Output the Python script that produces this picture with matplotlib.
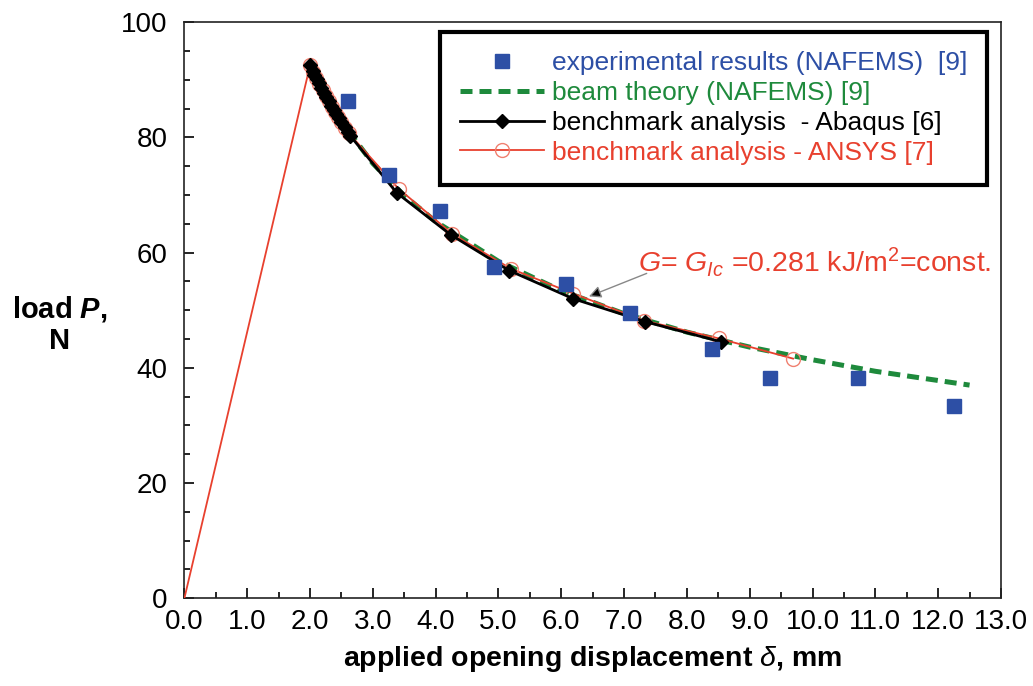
import numpy as np
import matplotlib
matplotlib.use('agg')
import matplotlib.pyplot as plt
from matplotlib.ticker import MultipleLocator, FormatStrFormatter

plt.rcParams['font.family'] = ['Liberation Sans', 'DejaVu Sans']
plt.rcParams['mathtext.fontset'] = 'custom'
plt.rcParams['mathtext.rm'] = 'Liberation Sans'
plt.rcParams['mathtext.it'] = 'Liberation Sans:italic'
plt.rcParams['mathtext.bf'] = 'Liberation Sans:bold'
plt.rcParams['mathtext.bfit'] = 'Liberation Sans:italic:bold'

# experimental results (NAFEMS) [9]
exp_x = [2.60, 3.25, 4.07, 4.93, 6.07, 7.10, 8.40, 9.32, 10.73, 12.26]
exp_y = [86.3, 73.4, 67.2, 57.5, 54.5, 49.5, 43.2, 38.2, 38.2, 33.4]

# beam theory (NAFEMS) [9]
beam_x = [2.0, 2.5, 3.0, 3.5, 4.0, 5.0, 6.0, 7.0, 8.0, 9.0, 10.0, 11.0, 12.0, 12.5]
beam_y = [92.5, 82.7, 75.5, 69.9, 65.4, 58.5, 53.4, 49.4, 46.2, 43.6, 41.4, 39.4, 37.8, 37.0]

# benchmark analysis - Abaqus [6]
abq_x = [2.00, 2.04, 2.07, 2.11, 2.14, 2.18, 2.22, 2.26, 2.30, 2.34, 2.38, 2.42,
         2.46, 2.50, 2.55, 2.60, 2.64, 3.38, 4.24, 5.17, 6.19, 7.34, 8.55]
abq_y = [92.5, 91.6, 90.9, 90.1, 89.4, 88.6, 87.8, 87.0, 86.3, 85.5, 84.8, 84.1,
         83.4, 82.7, 81.9, 81.0, 80.3, 70.4, 63.1, 56.9, 52.0, 48.0, 44.5]

# benchmark analysis - ANSYS [7]
ans_x = [0.0, 2.00, 2.05, 2.10, 2.15, 2.20, 2.25, 2.30, 2.35, 2.40, 2.45, 2.50,
         2.56, 2.62, 3.41, 4.26, 5.20, 6.19, 7.32, 8.51, 9.69]
ans_y = [0.0, 92.5, 91.4, 90.3, 89.2, 88.2, 87.2, 86.3, 85.3, 84.4, 83.6, 82.7,
         81.7, 80.7, 71.1, 63.3, 57.2, 52.9, 48.2, 45.1, 41.6]

blue = '#2d4fa5'
green = '#1e8a3c'
red = '#e8402e'

fig = plt.figure(figsize=(10.33, 6.86), dpi=100)
ax = fig.add_axes([0.1785, 0.128, 0.7905, 0.8395])

ax.plot(beam_x, beam_y, color=green, lw=3.6, dashes=(2.4, 1.4), zorder=2,
        label='beam theory (NAFEMS) [9]')
ax.plot(ans_x, ans_y, color=red, lw=1.3, marker='o', ms=10, mfc='none',
        mec='#f08070', mew=1.0, markevery=list(range(1, len(ans_x))), zorder=3,
        label='benchmark analysis - ANSYS [7]')
ax.plot(abq_x, abq_y, color='black', lw=2.0, marker='D', ms=7, mfc='black',
        mec='black', zorder=4, label='benchmark analysis  - Abaqus [6]')
ax.plot(exp_x, exp_y, ls='none', marker='s', ms=10, color=blue, zorder=5,
        label='experimental results (NAFEMS)  [9]')

ax.set_xlim(0, 13)
ax.set_ylim(0, 100)
ax.xaxis.set_major_locator(MultipleLocator(1))
ax.xaxis.set_minor_locator(MultipleLocator(0.5))
ax.yaxis.set_major_locator(MultipleLocator(20))
ax.yaxis.set_minor_locator(MultipleLocator(5))
ax.xaxis.set_major_formatter(FormatStrFormatter('%.1f'))
ax.tick_params(which='both', direction='in', width=1.2, labelsize=20)
ax.tick_params(which='major', length=7)
ax.tick_params(which='minor', length=4.5)
ax.tick_params(axis='x', pad=8)
ax.tick_params(axis='y', pad=12)
for s in ax.spines.values():
    s.set_linewidth(1.2)
    s.set_color('#222222')

ax.set_xlabel(r'applied opening displacement $\mathit{\delta}$, mm',
              fontsize=20.5, fontweight='bold', labelpad=6)
fig.text(0.058, 0.527, 'load $\\mathbfit{P}$,\nN', fontsize=21, fontweight='bold',
         ha='center', va='center', linespacing=1.1)

ax.annotate('', xy=(6.44, 52.4), xytext=(7.36, 56.4),
            arrowprops=dict(arrowstyle='-|>', ec='#888888', fc='black', lw=1.0,
                            shrinkA=0, shrinkB=0, mutation_scale=18))
ax.text(7.22, 58.3, r'$G$= $G_{Ic}$ =0.281 kJ/m$^2$=const.', color=red,
        fontsize=20.5, va='center', ha='left')

handles, labels = ax.get_legend_handles_labels()
order = [3, 0, 2, 1]
leg = ax.legend([handles[i] for i in order], [labels[i] for i in order],
                loc='upper right', bbox_to_anchor=(0.983, 0.984), borderaxespad=0,
                fontsize=19, handlelength=3.2, labelspacing=0.22,
                handletextpad=0.3, fancybox=False, framealpha=1,
                edgecolor='black', borderpad=0.75)
leg.get_frame().set_linewidth(3)
for t, c in zip(leg.get_texts(), [blue, green, 'black', red]):
    t.set_color(c)

plt.savefig('out.png', dpi=100)
